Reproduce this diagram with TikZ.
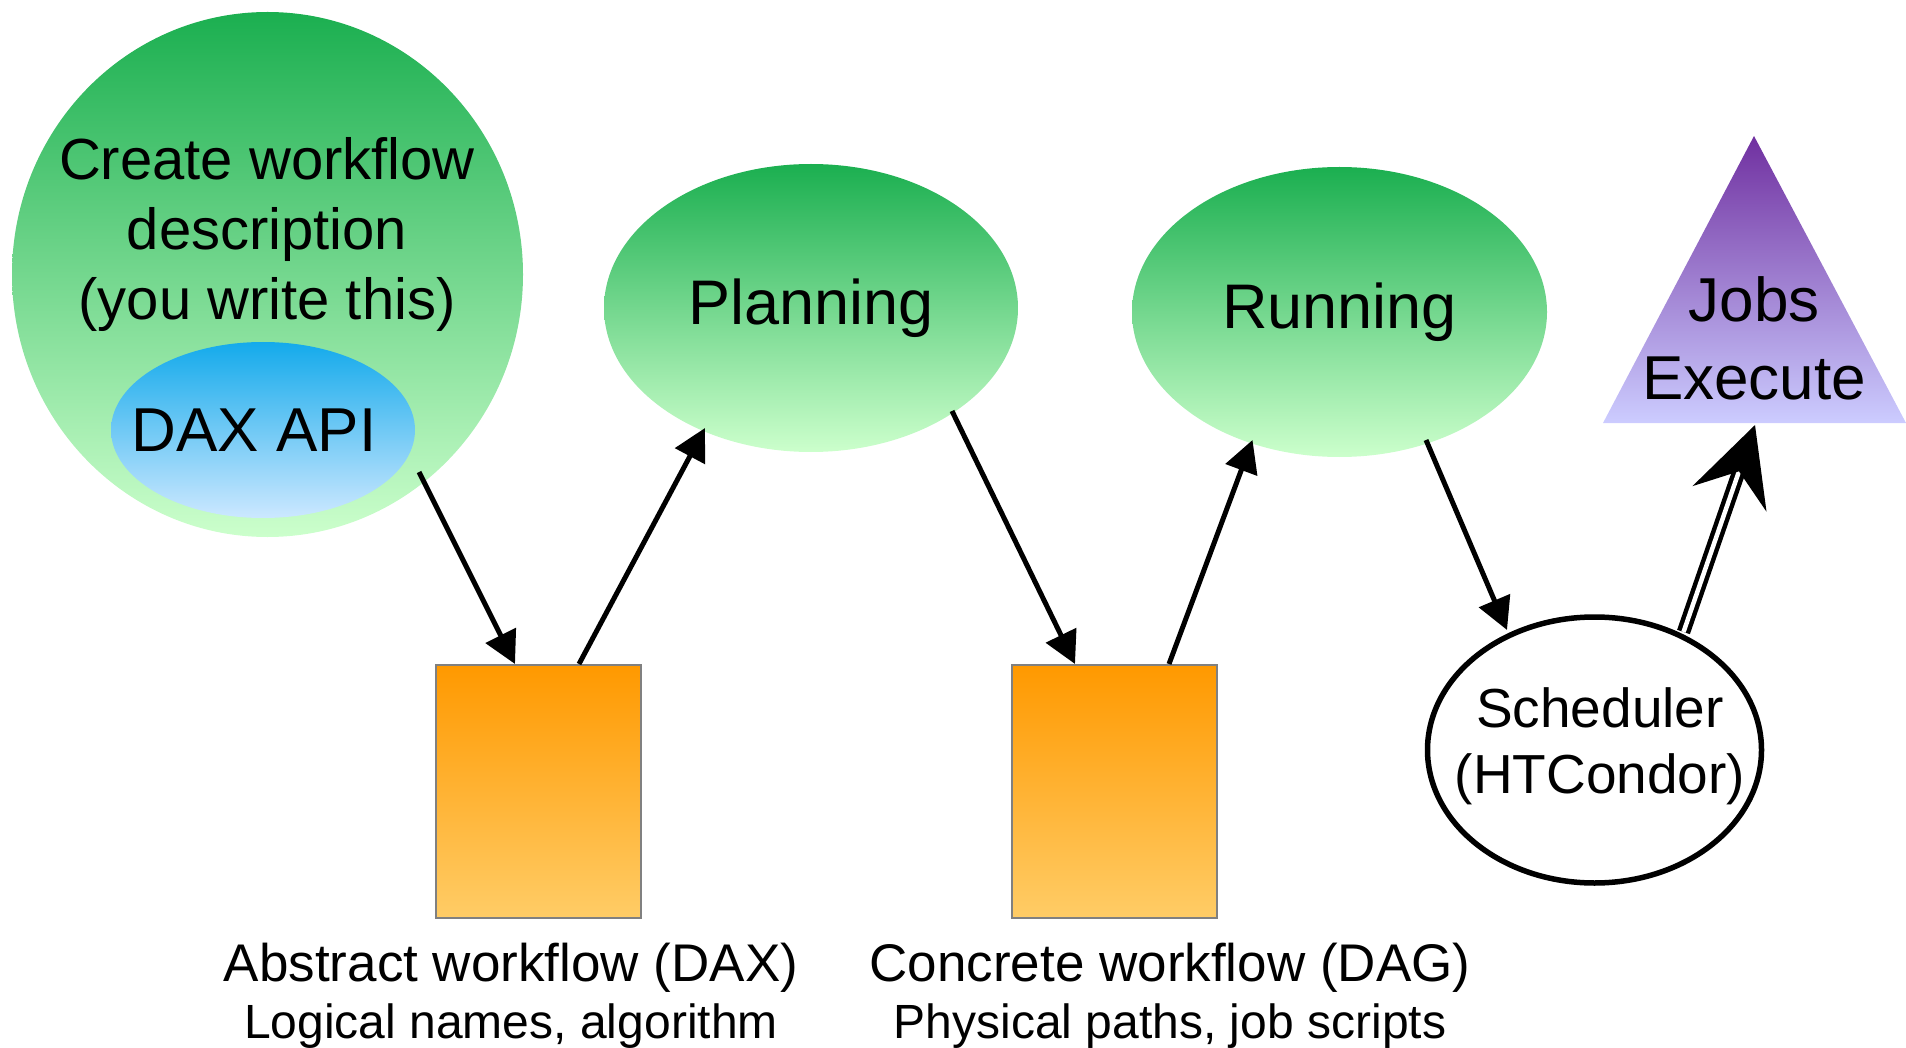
\documentclass[tikz,border=0pt]{standalone}
\usepackage{fontspec}
\setmainfont{Liberation Sans}
\usetikzlibrary{arrows.meta,shapes.geometric}

\definecolor{grnTop}{RGB}{27,175,80}
\definecolor{grnBot}{RGB}{204,255,204}
\definecolor{bluTop}{RGB}{20,170,235}
\definecolor{bluBot}{RGB}{204,232,255}
\definecolor{purTop}{RGB}{112,48,160}
\definecolor{purBot}{RGB}{204,204,255}
\definecolor{orgTop}{RGB}{255,153,0}
\definecolor{orgBot}{RGB}{255,204,102}
\definecolor{boxEdge}{RGB}{128,128,128}

\begin{document}
\begin{tikzpicture}[x=1pt,y=-1pt,
  greenblob/.style={ellipse, draw=none, inner sep=0pt,
    top color=grnTop, bottom color=grnBot},
  blueblob/.style={ellipse, draw=none, inner sep=0pt,
    top color=bluTop, bottom color=bluBot},
  filebox/.style={rectangle, draw=boxEdge, line width=2pt, inner sep=0pt,
    top color=orgTop, bottom color=orgBot,
    minimum width=205pt, minimum height=253pt},
  schedbox/.style={ellipse, draw=black, line width=5.5pt, fill=white,
    inner sep=0pt},
  caption/.style={align=center, inner sep=0pt,
    font=\fontsize{53}{57}\selectfont},
  flow/.style={line width=5pt, -{Triangle[length=32pt,width=33pt]}},
  dispatch/.style={double=white, double distance=4.5pt, line width=4.5pt,
    -{Stealth[length=78pt,width=78pt,inset=29pt]}}
]
\useasboundingbox (0,0) rectangle (1906,1048);

% workflow description with the DAX API inside
\node[greenblob, minimum width=511pt, minimum height=525pt] (create) at (267.5,274.5) {};
\node[align=center, inner sep=0pt, font=\fontsize{58}{70}\selectfont] (createtxt) at (267,234.5)
  {Create workflow\\description\\(you write this)};
\node[blueblob, minimum width=304pt, minimum height=176pt] (dax) at (263,430) {};
\node[inner sep=0pt, font=\fontsize{62}{74}\selectfont] (daxtxt) at (254,430) {DAX API};

% planning and running stages
\node[greenblob, minimum width=414pt, minimum height=288pt,
  font=\fontsize{63}{75}\selectfont] (plan) at (811,308) {Planning};
\node[greenblob, minimum width=415pt, minimum height=290pt,
  font=\fontsize{63}{75}\selectfont] (run) at (1339.5,312) {Running};

% job execution triangle
\shade[top color=purTop, bottom color=purBot] (1754,136) -- (1906,423) -- (1603,423) -- cycle;
\node[align=center, inner sep=0pt, font=\fontsize{62}{78}\selectfont] (jobs) at (1754,338.5)
  {Jobs\\Execute};
\coordinate (jobsbase) at (1755,425);

% workflow files
\node[filebox] (abs) at (538.5,791.5) {};
\node[filebox] (conc) at (1114.5,791.5) {};
\node[caption] (abstxt) at (511,996)
  {Abstract workflow (DAX)\\{\fontsize{48}{57}\selectfont Logical names, algorithm}};
\node[caption] (conctxt) at (1170,996)
  {Concrete workflow (DAG)\\{\fontsize{48}{57}\selectfont Physical paths, job scripts}};

% scheduler
\node[schedbox, minimum width=334pt, minimum height=266pt] (sched) at (1594.5,750) {};
\node[align=center, inner sep=0pt, font=\fontsize{55}{66}\selectfont] (schedtxt) at (1600,746)
  {Scheduler\\(HTCondor)};

% connectors
\draw[flow] ([shift={(156,42)}]dax.center) -- ([shift={(-23.5,0)}]abs.north);
\draw[flow] ([shift={(40.5,0)}]abs.north) -- ([shift={(-106,120)}]plan.center);
\draw[flow] ([shift={(141,103)}]plan.center) -- ([shift={(-39.5,0)}]conc.north);
\draw[flow] ([shift={(54.5,0)}]conc.north) -- ([shift={(-87,128)}]run.center);
\draw[flow] ([shift={(86.5,128)}]run.center) -- ([shift={(-87.5,-120)}]sched.center);
\draw[dispatch] ([shift={(89,-118)}]sched.center) -- (jobsbase);
\end{tikzpicture}
\end{document}
